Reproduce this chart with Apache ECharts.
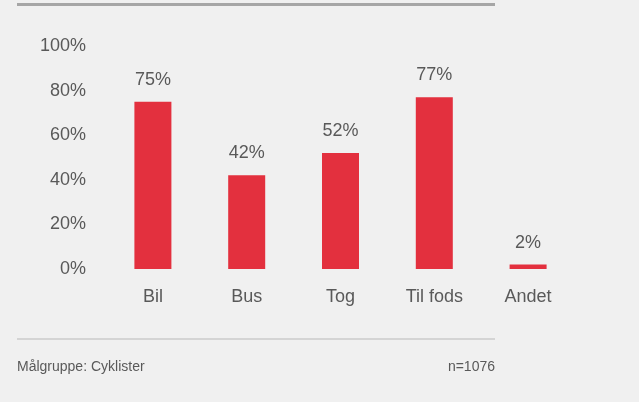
<!DOCTYPE html>
<html>
<head>
<meta charset="utf-8">
<script src="https://cdn.jsdelivr.net/npm/echarts@6/dist/echarts.min.js"></script>
<style>
  html, body { margin: 0; padding: 0; background: #f0f0f0; }
  #chart { width: 639px; height: 402px; }
</style>
</head>
<body>
<div id="chart"></div>
<script>
var categories = ['Bil', 'Bus', 'Tog', 'Til fods', 'Andet'];
var values = [75, 42, 52, 77, 2];
var yTicks = [0, 20, 40, 60, 80, 100];
var footLeft = 'Målgruppe: Cyklister';
var footRight = 'n=1076';

var txt = '#595959';
var font = 'Liberation Sans';

var myChart = echarts.init(document.getElementById('chart'));

var option = {
    backgroundColor: '#f0f0f0',
    animation: false,
    grid: { left: 106, right: 64, top: 46, height: 223, containLabel: false },
    xAxis: {
        type: 'category',
        data: categories,
        axisLine: { show: false },
        axisTick: { show: false },
        axisLabel: { color: txt, fontSize: 18, fontFamily: font, margin: 19 }
    },
    yAxis: {
        type: 'value',
        min: yTicks[0],
        max: yTicks[yTicks.length - 1],
        interval: 20,
        splitLine: { show: false },
        axisLine: { show: false },
        axisTick: { show: false },
        axisLabel: { color: txt, fontSize: 18, fontFamily: font, margin: 20, formatter: '{value}%' }
    },
    series: [{
        type: 'bar',
        data: values,
        barWidth: 37,
        itemStyle: { color: '#e3303e' },
        label: {
            show: true,
            position: 'top',
            distance: 13,
            color: txt,
            fontSize: 18,
            fontFamily: font,
            formatter: '{c}%'
        }
    }],
    graphic: [
        { type: 'rect', shape: { x: 17, y: 3, width: 478, height: 3 }, style: { fill: '#a6a6a6' } },
        { type: 'rect', shape: { x: 17, y: 338, width: 478, height: 2 }, style: { fill: '#d4d4d4' } },
        { type: 'text', left: 17, top: 360, style: { text: footLeft, fill: txt, font: '14px "Liberation Sans"' } },
        { type: 'text', right: 144, top: 360, style: { text: footRight, fill: txt, font: '14px "Liberation Sans"', textAlign: 'right' } }
    ]
};

myChart.setOption(option);
</script>
</body>
</html>
